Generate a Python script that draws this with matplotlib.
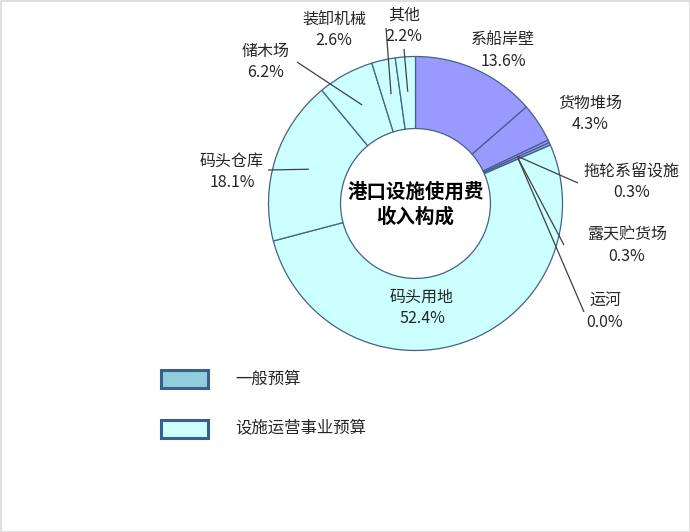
import matplotlib
matplotlib.use("Agg")
import matplotlib.pyplot as plt
import numpy as np
from matplotlib.patches import Rectangle

plt.rcParams['font.family'] = ['Noto Sans CJK SC', 'DejaVu Sans']

categories = ["系船岸壁", "货物堆场", "拖轮系留设施", "露天贮货场", "运河",
              "码头用地", "码头仓库", "储木场", "装卸机械", "其他"]
values = [13.6, 4.3, 0.3, 0.3, 0.0, 52.4, 18.1, 6.2, 2.6, 2.2]
budget = ["一般预算", "一般预算", "一般预算", "一般预算", "一般预算",
          "设施运营事业预算", "设施运营事业预算", "设施运营事业预算",
          "设施运营事业预算", "设施运营事业预算"]
legend_labels = ["一般预算", "设施运营事业预算"]
center_title = "港口设施使用费\n收入构成"

W, H = 690, 532
slice_colors = {"一般预算": "#9999FF", "设施运营事业预算": "#CCFFFF"}
legend_colors = {"一般预算": "#92CDDC", "设施运营事业预算": "#CCFFFF"}
edge = "#44618A"
txt_color = "#262626"

fig = plt.figure(figsize=(W / 100, H / 100), dpi=100)
ax = fig.add_axes([0, 0, 1, 1])
ax.set_xlim(0, W)
ax.set_ylim(0, H)
ax.set_aspect('equal')
ax.axis('off')

cx, cy = 415.5, H - 203.5
R = 147
wedges, _ = ax.pie(values, colors=[slice_colors[b] for b in budget],
                   startangle=90, counterclock=False, center=(cx, cy), radius=R,
                   wedgeprops=dict(width=R * 0.49, edgecolor=edge, linewidth=0.9))
ax.set_xlim(0, W)
ax.set_ylim(0, H)

ax.text(cx, cy - 1, center_title, ha='center', va='center', fontsize=14,
        fontweight='bold', color='black', linespacing=1.3)

# label positions (pixel coords, y from top) and leader-line elbows
label_pos = {
    "系船岸壁": (503, 51, None),
    "货物堆场": (590, 114, None),
    "拖轮系留设施": (632, 182, (578, 183)),
    "露天贮货场": (627, 246, (564, 245)),
    "运河": (605, 312, (584, 312)),
    "码头用地": (422, 308, None),
    "码头仓库": (232, 172, (268, 170)),
    "储木场": (266, 62, (297, 62)),
    "装卸机械": (334, 30, (386, 28)),
    "其他": (404, 26, (404, 49)),
}

for w, cat, v in zip(wedges, categories, values):
    x, y, elbow = label_pos[cat]
    ax.text(x, H - y, f"{cat}\n{v:.1f}%", ha='center', va='center', fontsize=11.5,
            color=txt_color, linespacing=1.3)
    if elbow is not None:
        mid = np.deg2rad((w.theta1 + w.theta2) / 2)
        r = 0.762 * R
        px, py = cx + r * np.cos(mid), cy + r * np.sin(mid)
        ex, ey = elbow
        ax.plot([px, ex], [py, H - ey], color='#404040', lw=0.9,
                solid_capstyle='butt')

# legend
for i, lab in enumerate(legend_labels):
    top = 370 + i * 50
    ax.add_patch(Rectangle((161, H - top - 18), 47, 18, facecolor=legend_colors[lab],
                           edgecolor='#3A5F8F', linewidth=2.2))
    ax.text(235, H - top - 9, lab, ha='left', va='center', fontsize=11.8,
            color=txt_color)

# frame
ax.add_patch(Rectangle((0.5, 0.5), W - 1, H - 1, fill=False, edgecolor='#D9D9D9',
                       linewidth=1.2))

fig.savefig("out.png", dpi=100)
